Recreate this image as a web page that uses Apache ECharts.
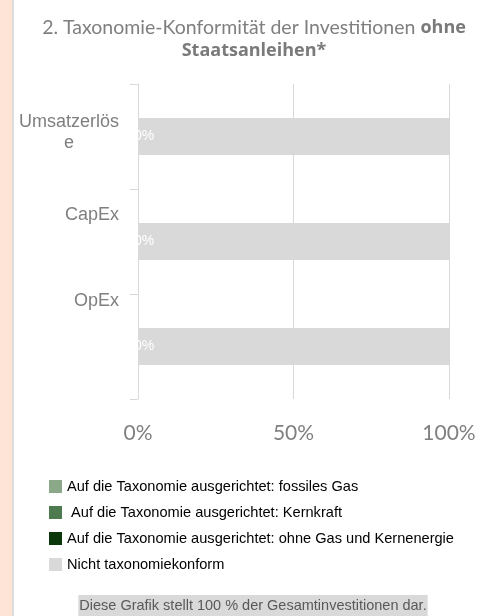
<!DOCTYPE html>
<html>
<head>
<meta charset="utf-8">
<script src="https://cdn.jsdelivr.net/npm/echarts@6/dist/echarts.min.js"></script>
<style>
html,body{margin:0;padding:0;background:#fff;}
#chart{width:483px;height:616px;}
</style>
</head>
<body>
<div id="chart"></div>
<script>
const categories = ['Umsatzerlöse', 'CapEx', 'OpEx'];
const fossilesGas = [0, 0, 0];
const kernkraft = [0, 0, 0];
const ohneGasKern = [0, 0, 0];
const nichtKonform = [100, 100, 100];
const xTicks = [0, 50, 100];

const seriesNames = [
  'Auf die Taxonomie ausgerichtet: fossiles Gas',
  ' Auf die Taxonomie ausgerichtet: Kernkraft',
  'Auf die Taxonomie ausgerichtet: ohne Gas und Kernenergie',
  'Nicht taxonomiekonform'
];
const colors = ['#8ba889', '#4e7a4f', '#0a380a', '#d9d9d9'];

const chart = echarts.init(document.getElementById('chart'));

const labelFmt = function (val, idx) {
  if (val === 'Umsatzerlöse') return '{u|Umsatzerlös}\n{u|e}\n{s0| }';
  if (val === 'CapEx') return '{t|CapEx}\n{s1| }';
  return '{t|' + val + '}\n{s2| }';
};

function barSeries(i, data, withLabel) {
  return {
    name: seriesNames[i],
    type: 'bar',
    stack: 'total',
    data: data,
    barWidth: 37,
    itemStyle: { color: colors[i] },
    label: withLabel ? {
      show: true,
      position: 'right',
      distance: -4,
      formatter: '{c}%',
      color: '#ffffff',
      fontFamily: 'Liberation Sans',
      fontSize: 14
    } : { show: false },
    emphasis: { disabled: true }
  };
}

chart.setOption({
  animation: false,
  backgroundColor: '#ffffff',
  graphic: [
    { type: 'rect', shape: { x: 0, y: 0, width: 12, height: 616 }, style: { fill: '#fde4d6' } },
    { type: 'rect', shape: { x: 12, y: 0, width: 2, height: 616 }, style: { fill: '#dcdcdc' } }
  ],
  title: [
    {
      text: '2. Taxonomie-Konformität der Investitionen {b|ohne}\n{b|Staatsanleihen*}',
      left: 249,
      top: 11,
      textAlign: 'center',
      textStyle: {
        fontFamily: 'Lato',
        fontSize: 19.5,
        fontWeight: 'normal',
        color: '#7f7f7f',
        lineHeight: 23,
        rich: {
          b: { fontFamily: 'Open Sans', fontSize: 18, fontWeight: 'bold', color: '#7a7a7a', lineHeight: 23 }
        }
      }
    },
    {
      text: 'Diese Grafik stellt 100 % der Gesamtinvestitionen dar.',
      left: 252,
      top: 595,
      textAlign: 'center',
      backgroundColor: '#d9d9d9',
      padding: [3, 1, 3, 1],
      textStyle: {
        fontFamily: 'Liberation Sans',
        fontSize: 14.5,
        fontWeight: 'normal',
        color: '#595959'
      }
    }
  ],
  legend: {
    orient: 'vertical',
    left: 44,
    top: 474,
    itemWidth: 13,
    itemHeight: 13,
    itemGap: 11,
    icon: 'rect',
    data: seriesNames,
    selectedMode: false,
    textStyle: { fontFamily: 'Liberation Sans', fontSize: 14.6, color: '#000000' }
  },
  grid: { left: 138, right: 34, top: 84, bottom: 217 },
  xAxis: {
    type: 'value',
    min: 0,
    max: 100,
    interval: 50,
    axisLine: { show: false },
    axisTick: { show: false },
    splitLine: { show: true, lineStyle: { color: '#d9d9d9', width: 1 } },
    axisLabel: {
      formatter: function (v) { return xTicks.indexOf(v) >= 0 ? v + '%' : ''; },
      margin: 24,
      fontFamily: 'Lato',
      fontSize: 21,
      color: '#808080'
    }
  },
  yAxis: {
    type: 'category',
    data: categories,
    inverse: true,
    axisLine: { show: true, lineStyle: { color: '#d9d9d9', width: 1 } },
    axisTick: { show: true, length: 8, lineStyle: { color: '#d9d9d9' } },
    axisLabel: {
      margin: 19,
      formatter: labelFmt,
      rich: {
        u: { fontFamily: 'Liberation Sans', fontSize: 18, color: '#7f7f7f', lineHeight: 21, align: 'center' },
        t: { fontFamily: 'Liberation Sans', fontSize: 18, color: '#7f7f7f', lineHeight: 21 },
        s0: { height: 7, lineHeight: 7, fontSize: 1 },
        s1: { height: 52, lineHeight: 52, fontSize: 1 },
        s2: { height: 90, lineHeight: 90, fontSize: 1 }
      }
    }
  },
  series: [
    barSeries(2, ohneGasKern, true),
    barSeries(0, fossilesGas, false),
    barSeries(1, kernkraft, false),
    barSeries(3, nichtKonform, false)
  ]
});
</script>
</body>
</html>
